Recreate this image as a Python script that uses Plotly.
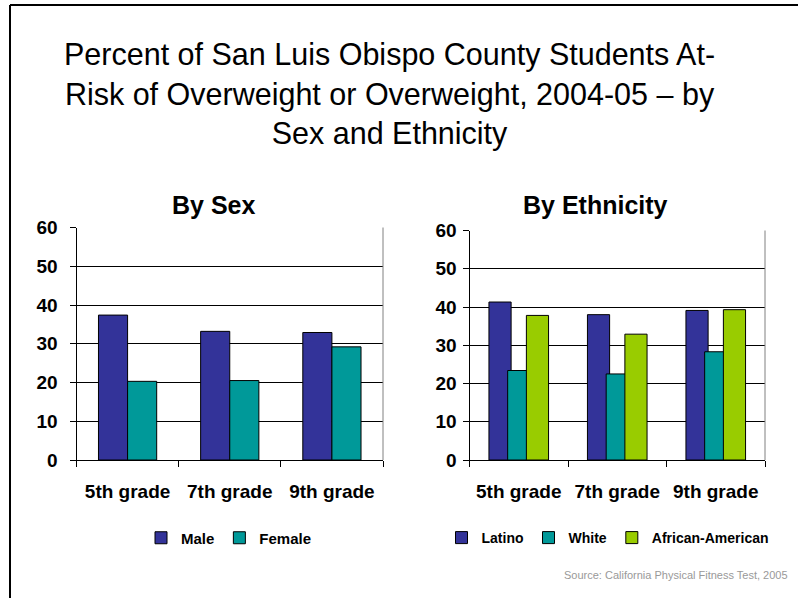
import plotly.graph_objects as go

grades = ["5th grade", "7th grade", "9th grade"]

male = [37.4, 33.2, 32.9]
female = [20.3, 20.5, 29.2]

latino = [41.3, 38.0, 39.1]
white = [23.4, 22.5, 28.3]
african_american = [37.8, 32.9, 39.3]

y_ticks = [0, 10, 20, 30, 40, 50, 60]

title_text = ("Percent of San Luis Obispo County Students At-<br>"
              "Risk of Overweight or Overweight, 2004-05 \u2013 by<br>"
              "Sex and Ethnicity")
sub1 = "By Sex"
sub2 = "By Ethnicity"
source_text = "Source: California Physical Fitness Test, 2005"

C_NAVY = "#333399"
C_TEAL = "#009999"
C_LIME = "#99CC00"

W, H = 798, 598
FONT = "Liberation Sans, Arial, sans-serif"

fig = go.Figure()

def bar(name, vals, color, xa, ya, legend, width):
    return go.Bar(x=grades, y=vals, name=name, width=width,
                  marker=dict(color=color, line=dict(color="#000000", width=1)),
                  xaxis=xa, yaxis=ya, legend=legend)

fig.add_trace(bar("Male", male, C_NAVY, "x", "y", "legend", 0.285))
fig.add_trace(bar("Female", female, C_TEAL, "x", "y", "legend", 0.285))
fig.add_trace(bar("Latino", latino, C_NAVY, "x2", "y2", "legend2", 0.225))
fig.add_trace(bar("White", white, C_TEAL, "x2", "y2", "legend2", 0.225))
fig.add_trace(bar("African-American", african_american, C_LIME, "x2", "y2", "legend2", 0.225))

def px_x(p):
    return p / W

def px_y(p):
    return 1 - p / H

xcommon = dict(type="category", showline=True, linecolor="#000000", linewidth=1,
               ticks="outside", tickson="boundaries", ticklen=6, tickcolor="#000000",
               showgrid=False, ticklabelstandoff=14, automargin=False,
               tickfont=dict(family=FONT, size=19, color="#000000", weight="bold"))
ycommon = dict(range=[0, 60], tickvals=y_ticks, showline=True, linecolor="#000000", linewidth=1,
               ticks="outside", ticklen=6, tickcolor="#000000", automargin=False,
               showgrid=True, gridcolor="#000000", gridwidth=1, zeroline=False,
               tickfont=dict(family=FONT, size=19, color="#000000", weight="bold"))

fig.update_layout(
    width=W, height=H,
    margin=dict(l=0, r=0, t=0, b=0, pad=0, autoexpand=False),
    paper_bgcolor="#FFFFFF", plot_bgcolor="#FFFFFF",
    barmode="group", bargap=0.43,
    xaxis=dict(domain=[px_x(76.5), px_x(383)], anchor="y", **xcommon),
    yaxis=dict(domain=[px_y(460), px_y(227.5)], anchor="x", ticklabelstandoff=8, **ycommon),
    xaxis2=dict(domain=[px_x(469.5), px_x(765)], anchor="y2", **xcommon),
    yaxis2=dict(domain=[px_y(460), px_y(230.5)], anchor="x2", ticklabelstandoff=2, **ycommon),
    showlegend=True,
    legend=dict(orientation="h", x=px_x(141), y=px_y(538), xanchor="left", yanchor="middle",
                font=dict(family=FONT, size=15, color="#000000", weight="bold"),
                traceorder="normal", bgcolor="rgba(0,0,0,0)"),
    legend2=dict(orientation="h", x=px_x(608), y=px_y(538), xanchor="center", yanchor="middle",
                 font=dict(family=FONT, size=14, color="#000000", weight="bold"),
                 traceorder="normal", bgcolor="rgba(0,0,0,0)"),
    font=dict(family=FONT, color="#000000"),
)

fig.add_annotation(text=title_text, x=px_x(389), y=px_y(94), xref="paper", yref="paper",
                   xanchor="center", yanchor="middle", showarrow=False, align="center",
                   font=dict(family=FONT, size=30.5, color="#000000"))
fig.add_annotation(text="<b>" + sub1 + "</b>", x=px_x(213), y=px_y(205), xref="paper", yref="paper",
                   xanchor="center", yanchor="middle", showarrow=False,
                   font=dict(family=FONT, size=25, color="#000000"))
fig.add_annotation(text="<b>" + sub2 + "</b>", x=px_x(595), y=px_y(205), xref="paper", yref="paper",
                   xanchor="center", yanchor="middle", showarrow=False,
                   font=dict(family=FONT, size=25, color="#000000"))
fig.add_annotation(text=source_text, x=px_x(790), y=px_y(575), xref="paper", yref="paper",
                   xanchor="right", yanchor="middle", showarrow=False,
                   font=dict(family=FONT, size=11, color="#999999"))

# right border of plot areas
for xr, yr in (("x domain", "y domain"), ("x2 domain", "y2 domain")):
    fig.add_shape(type="line", x0=1, x1=1, y0=0, y1=1, xref=xr, yref=yr,
                  line=dict(color="#808080", width=1))

# slide frame (top and left edges)
fig.add_shape(type="line", x0=px_x(10), x1=1.01, y0=px_y(5), y1=px_y(5), xref="paper", yref="paper",
              line=dict(color="#000000", width=2))
fig.add_shape(type="line", x0=px_x(10), x1=px_x(10), y0=px_y(5), y1=-0.01, xref="paper", yref="paper",
              line=dict(color="#000000", width=2))

fig.write_html(
    "out.html",
    config={"displayModeBar": False},
    post_script=("document.body.style.margin='0';"
                 "document.documentElement.style.overflow='hidden';"
                 "document.body.style.overflow='hidden';"
                 "var d=document.getElementById('{plot_id}');"
                 "d.style.position='fixed';d.style.top='0px';d.style.left='0px';"),
)
